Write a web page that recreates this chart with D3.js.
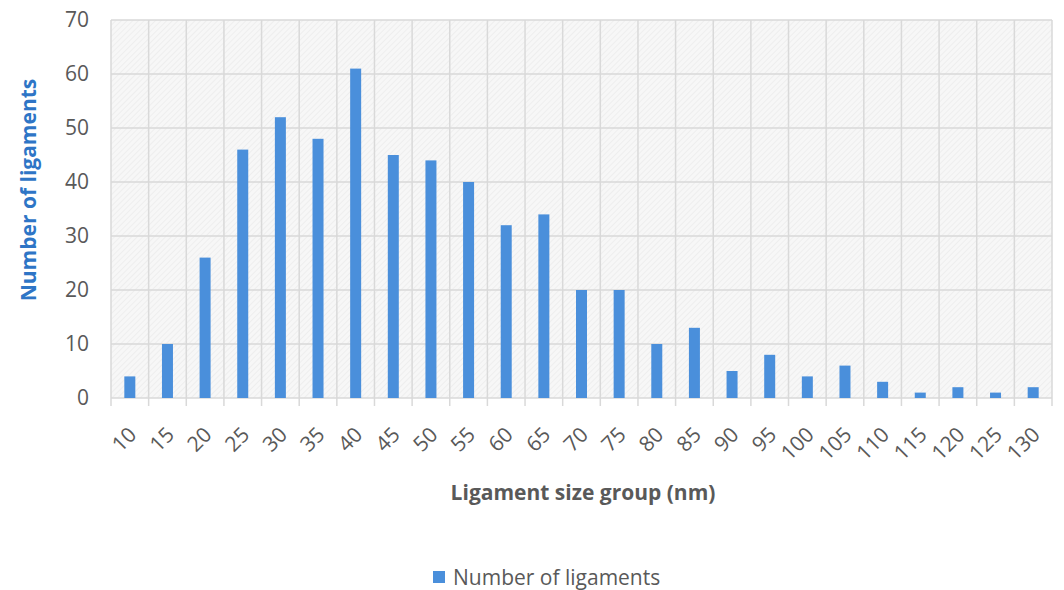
<!DOCTYPE html>
<html><head><meta charset="utf-8">
<script src="https://cdn.jsdelivr.net/npm/d3@7"></script>
<style>body{margin:0;background:#fff;} text{font-family:"Open Sans",sans-serif;}</style>
</head><body><svg id="c" width="1064" height="590"></svg>
<script>
const categories = ["10","15","20","25","30","35","40","45","50","55","60","65","70","75","80","85","90","95","100","105","110","115","120","125","130"];
const values = [4,10,26,46,52,48,61,45,44,40,32,34,20,20,10,13,5,8,4,6,3,1,2,1,2];
const yTicks = [0,10,20,30,40,50,60,70];
const seriesName = "Number of ligaments";

const svg = d3.select("#c");
const m = {l:111, r:1052, t:20, b:398};
const x = d3.scaleBand().domain(categories).range([m.l, m.r]).padding(0);
const y = d3.scaleLinear().domain([0,70]).range([m.b, m.t]);

const defs = svg.append("defs");
const pat = defs.append("pattern").attr("id","hatch").attr("width",4).attr("height",4)
  .attr("patternUnits","userSpaceOnUse").attr("patternTransform","rotate(45)");
pat.append("rect").attr("width",4).attr("height",4).attr("fill","#f7f7f7");
pat.append("line").attr("x1",0).attr("y1",0).attr("x2",0).attr("y2",4).attr("stroke","#ebebeb").attr("stroke-width",1.5);

svg.append("rect").attr("x",m.l).attr("y",m.t).attr("width",m.r-m.l).attr("height",m.b-m.t).attr("fill","url(#hatch)");

// horizontal gridlines
svg.append("g").selectAll("line").data(yTicks).join("line")
  .attr("x1",m.l).attr("x2",m.r).attr("y1",d=>y(d)).attr("y2",d=>y(d))
  .attr("stroke","#d9d9d9").attr("stroke-width",1.5);
// vertical gridlines at category boundaries
const bounds = categories.map(c=>x(c)).concat([m.r]);
svg.append("g").selectAll("line").data(bounds).join("line")
  .attr("x1",d=>d).attr("x2",d=>d).attr("y1",m.t).attr("y2",m.b+8)
  .attr("stroke","#d9d9d9").attr("stroke-width",1.5);

// bars
const bw = 11;
svg.append("g").selectAll("rect").data(values).join("rect")
  .attr("x",(d,i)=>x(categories[i])+x.bandwidth()/2-bw/2)
  .attr("width",bw)
  .attr("y",d=>y(d)).attr("height",d=>y(0)-y(d))
  .attr("fill","#4a8fdb");

// y axis labels
const yAxis = d3.axisLeft(y).tickValues(yTicks).tickSize(0).tickPadding(0);
const gy = svg.append("g").attr("transform",`translate(${m.l-22},0)`).call(yAxis);
gy.select(".domain").remove();
gy.selectAll("text").attr("font-size",21).attr("fill","#595959").attr("font-family","Open Sans, sans-serif");

// x axis labels
const xAxis = d3.axisBottom(x).tickSize(0).tickPadding(0);
const gx = svg.append("g").attr("transform",`translate(0,${m.b})`).call(xAxis);
gx.select(".domain").remove();
gx.selectAll("text").attr("font-size",21).attr("fill","#595959").attr("font-family","Open Sans, sans-serif")
  .attr("text-anchor","end").attr("dy",0).attr("y",0)
  .attr("transform","translate(8,38) rotate(-45)");

// axis titles
svg.append("text").attr("transform",`translate(36,190) rotate(-90)`)
  .attr("text-anchor","middle").attr("font-size",21).attr("font-weight","bold").attr("fill","#2e75c6")
  .text("Number of ligaments");
svg.append("text").attr("x",583).attr("y",500).attr("text-anchor","middle")
  .attr("font-size",21).attr("font-weight","bold").attr("fill","#595959")
  .text("Ligament size group (nm)");

// legend
const lg = svg.append("g").attr("transform","translate(433,585)");
lg.append("rect").attr("x",0).attr("y",-14).attr("width",12).attr("height",12).attr("fill","#4a8fdb");
lg.append("text").attr("x",20).attr("y",0).attr("font-size",21).attr("fill","#595959").text(seriesName);
</script></body></html>
